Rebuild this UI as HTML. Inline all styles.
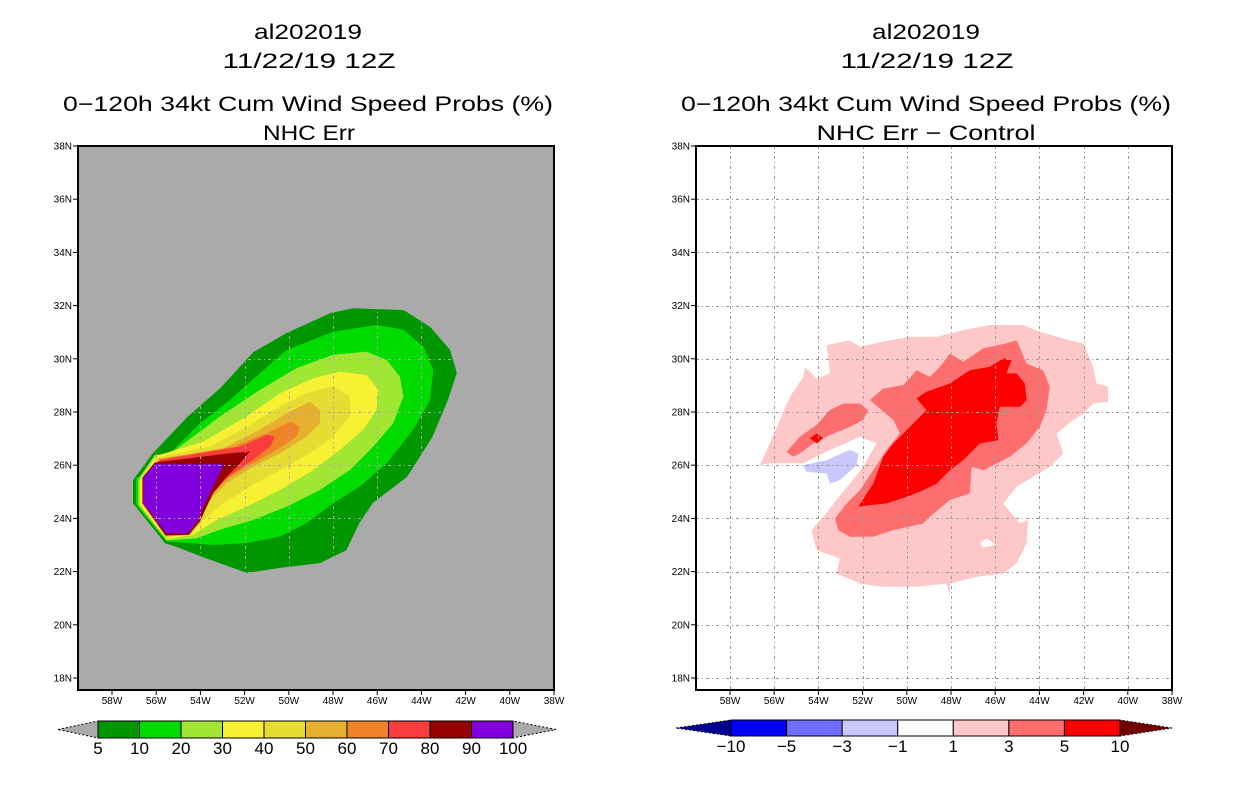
<!DOCTYPE html>
<html><head><meta charset="utf-8"><style>
html,body{margin:0;padding:0;background:#fff;}
svg{display:block;font-family:"Liberation Sans",sans-serif;}
</style></head><body>
<svg id="chart" width="1236" height="800" viewBox="0 0 1236 800">
<rect width="1236" height="800" fill="#fff"/>
<g font-size="21" text-anchor="middle" fill="#000">
<text x="308" y="39" textLength="108" lengthAdjust="spacingAndGlyphs">al202019</text>
<text x="309" y="68" textLength="173" lengthAdjust="spacingAndGlyphs">11/22/19 12Z</text>
<text x="308" y="111" textLength="490" lengthAdjust="spacingAndGlyphs">0−120h 34kt Cum Wind Speed Probs (%)</text>
<text x="309" y="140" textLength="92" lengthAdjust="spacingAndGlyphs">NHC Err</text>
</g>
<g font-size="21" text-anchor="middle" fill="#000">
<text x="926" y="39" textLength="108" lengthAdjust="spacingAndGlyphs">al202019</text>
<text x="927" y="68" textLength="173" lengthAdjust="spacingAndGlyphs">11/22/19 12Z</text>
<text x="926" y="111" textLength="490" lengthAdjust="spacingAndGlyphs">0−120h 34kt Cum Wind Speed Probs (%)</text>
<text x="926" y="140" textLength="219" lengthAdjust="spacingAndGlyphs">NHC Err − Control</text>
</g>
<g id="left"></g>
<g id="right"></g>
<g id="cbl"></g>
<g id="cbr"></g>
</svg>
<script>
// ---- data (lon in degrees W, lat in degrees N) ----
const lonTicks = [58,56,54,52,50,48,46,44,42,40,38];
const latTicks = [38,36,34,32,30,28,26,24,22,20,18];
const probLevels = [5,10,20,30,40,50,60,70,80,90,100];
const probColors = ["#009600","#00dc00","#a0e632","#f8f032","#e6dc32","#e6af2d","#f08228","#fa3c3c","#960000","#8200dc"];
const diffLevels = ["−10","−5","−3","−1","1","3","5","10"];
const diffColors = ["#00008c","#0000ff","#6e6eff","#c8c8ff","#ffffff","#ffc8c8","#ff6e6e","#ff0000","#700000"];
const prob5 = [[57.05,25.44],[56.14,26.46],[54.6,27.8],[53.1,28.9],[51.6,30.25],[50.1,30.97],[48.1,31.72],[47.1,31.9],[44.8,31.83],[43.6,31.2],[42.7,30.33],[42.4,29.47],[42.8,28.45],[43.5,27.06],[44.65,25.56],[46.2,24.58],[46.8,23.83],[47.4,22.8],[48.6,22.32],[50.4,22.14],[51.9,21.95],[53.9,22.55],[55.06,22.92],[55.6,23.07],[57.05,24.57]];
const prob10 = [[56.92,25.48],[55.38,26.45],[54.02,27.58],[52.66,28.45],[51.31,29.46],[50.10,30.33],[47.99,31.02],[46.03,31.27],[44.82,31.09],[43.91,30.46],[43.46,29.58],[43.61,28.45],[44.37,27.33],[45.57,26.07],[46.78,25.20],[47.99,24.57],[49.19,23.82],[50.40,23.32],[51.91,23.07],[53.42,23.00],[54.47,23.07],[55.53,23.13],[56.92,24.51]];
const prob20 = [[56.06,26.39],[55.38,26.42],[53.12,27.83],[51.31,28.83],[49.65,29.65],[47.99,30.15],[46.48,30.27],[45.57,29.96],[44.97,29.33],[44.82,28.58],[45.27,27.58],[46.18,26.70],[47.23,25.82],[48.59,25.07],[50.10,24.44],[51.61,23.94],[53.12,23.57],[54.17,23.25],[55.53,23.17],[56.81,24.51],[56.81,25.47]];
const prob30 = [[55.98,26.35],[53.87,26.89],[51.91,27.83],[50.40,28.71],[48.89,29.27],[47.69,29.52],[46.48,29.39],[45.95,28.83],[46.03,28.08],[46.63,27.33],[47.69,26.57],[48.89,25.82],[50.40,25.07],[51.91,24.44],[53.27,23.94],[54.32,23.38],[55.53,23.22],[56.74,24.51],[56.74,25.45]];
const prob40 = [[55.91,26.30],[53.57,26.70],[51.91,27.45],[50.55,28.14],[49.19,28.71],[47.99,28.96],[47.23,28.58],[47.23,27.83],[47.99,27.08],[49.04,26.45],[50.40,25.82],[51.76,25.20],[52.96,24.57],[53.87,23.94],[54.40,23.44],[55.53,23.27],[56.67,24.54],[56.67,25.45]];
const prob50 = [[55.86,26.26],[53.12,26.57],[51.31,27.33],[50.10,27.95],[49.04,28.39],[48.59,28.08],[48.59,27.58],[49.19,27.08],[50.40,26.45],[51.61,25.95],[52.81,25.32],[53.57,24.70],[54.02,23.94],[54.47,23.38],[55.56,23.32],[56.64,24.57],[56.64,25.50]];
const prob60 = [[55.83,26.22],[52.51,26.70],[51.00,27.20],[49.95,27.64],[49.50,27.45],[49.65,27.08],[50.55,26.57],[51.61,26.07],[52.66,25.57],[53.42,24.95],[53.79,24.32],[54.17,23.82],[54.50,23.38],[55.57,23.34],[56.63,24.57],[56.63,25.53]];
const prob70 = [[55.80,26.20],[52.21,26.70],[51.00,27.14],[50.63,27.08],[50.85,26.70],[51.61,26.20],[52.51,25.70],[53.27,25.20],[53.72,24.57],[54.02,23.94],[54.52,23.40],[55.59,23.37],[56.61,24.57],[56.61,25.55]];
const prob80 = [[56.07,26.10],[52.66,26.45],[51.76,26.51],[52.21,26.07],[52.81,25.57],[53.42,24.95],[53.72,24.44],[54.02,23.88],[54.53,23.38],[55.59,23.37],[56.61,24.57],[56.61,25.55]];
const prob90 = [[56.06,26.05],[52.93,26.05],[53.42,25.20],[53.79,24.57],[54.10,23.94],[54.55,23.44],[55.56,23.44],[56.58,24.57],[56.58,25.55]];
const diffPos1 = [[56.65,26.00],[56.20,26.82],[55.74,27.70],[55.29,28.57],[54.69,29.32],[54.61,29.70],[54.08,29.26],[53.48,29.45],[53.63,30.51],[52.58,30.70],[52.12,30.45],[50.77,30.70],[49.86,30.83],[48.65,30.83],[47.45,31.08],[46.24,31.27],[44.73,31.27],[43.98,31.02],[42.92,30.76],[42.02,30.58],[41.56,29.70],[41.41,29.07],[40.89,28.95],[40.89,28.38],[41.56,28.32],[42.02,27.94],[42.47,27.70],[43.22,27.19],[42.92,26.44],[43.53,25.94],[44.28,25.56],[45.03,25.19],[45.64,24.56],[44.88,23.81],[44.51,23.94],[44.58,23.06],[45.03,22.31],[45.64,21.93],[46.84,21.80],[48.05,21.55],[48.05,21.05],[48.20,21.55],[49.56,21.43],[51.07,21.43],[52.12,21.55],[53.18,21.93],[53.03,22.49],[54.08,22.81],[54.31,23.56],[53.78,24.06],[53.18,24.69],[52.58,25.31],[51.97,25.94],[51.37,26.82],[52.12,27.07],[53.48,26.57],[54.69,26.07],[55.59,26.07],[56.20,26.07]];
const diffPos3a = [[55.44,26.50],[54.84,27.07],[54.08,27.51],[53.48,28.07],[52.88,28.32],[52.12,28.32],[51.75,28.07],[51.97,27.70],[52.58,27.44],[53.48,27.13],[54.23,26.82],[54.84,26.44],[55.14,26.32]];
const diffPos3b = [[53.25,24.00],[52.73,24.56],[52.12,25.06],[51.52,25.81],[50.92,26.57],[50.31,27.19],[50.61,27.70],[51.67,28.45],[51.07,28.88],[50.16,29.01],[49.56,29.57],[48.96,29.32],[48.50,29.70],[48.05,30.20],[47.45,29.89],[46.54,30.39],[45.49,30.58],[45.03,30.70],[44.58,29.82],[43.83,29.57],[43.53,28.95],[43.68,28.07],[43.98,27.44],[44.58,26.82],[45.34,26.32],[46.54,25.81],[47.07,25.94],[47.15,24.94],[48.05,24.69],[48.96,24.06],[49.26,23.81],[50.61,23.56],[51.52,23.31],[52.58,23.31],[53.10,23.56]];
const diffPos5a = [[52.20,24.44],[51.52,25.31],[51.07,26.32],[50.61,26.82],[50.16,27.19],[49.11,28.07],[49.56,28.51],[49.11,28.76],[48.05,29.07],[47.15,29.57],[46.24,29.70],[45.64,30.01],[45.26,29.95],[45.49,29.45],[45.03,29.45],[44.66,29.07],[44.58,28.45],[44.88,28.20],[45.79,28.20],[45.94,27.57],[45.86,26.94],[46.69,26.82],[47.45,26.19],[48.05,25.81],[48.65,25.31],[49.26,25.06],[50.01,24.81],[50.92,24.56],[51.67,24.50]];
const diffPos5b = [[54.39,27.01],[54.08,27.19],[53.78,27.01],[54.08,26.82]];
const diffNeg1 = [[54.69,26.00],[53.63,26.19],[52.58,26.57],[52.20,26.44],[52.27,26.00],[53.03,25.44],[53.48,25.31],[53.63,25.69],[54.54,25.75]];
const diffHole = [[46.69,23.06],[46.39,23.25],[45.94,23.00],[46.54,22.91]];

// ---- drawing ----
const NS="http://www.w3.org/2000/svg";
const LEFT0=78, RIGHT0=554, TOP=146, BOT=690;
function xs(lon,off){return RIGHT0+off-(lon-38)*22.1;}
function ys(lat){return TOP+(38-lat)*26.6;}
function mk(tag,attrs,parent){const e=document.createElementNS(NS,tag);for(const k in attrs)e.setAttribute(k,attrs[k]);parent.appendChild(e);return e;}
function poly(g,pts,off,fill,name){
  const p=mk('polygon',{points:pts.map(q=>xs(q[0],off).toFixed(1)+','+ys(q[1]).toFixed(1)).join(' '),fill:fill},g);
  
  
}
function panel(g,off,bg,gridColor,layers){
  const clipId='clip'+off;
  const cp=mk('clipPath',{id:clipId},g);
  mk('rect',{x:LEFT0+off,y:TOP,width:RIGHT0-LEFT0,height:BOT-TOP},cp);
  const bgr=mk('rect',{x:LEFT0+off,y:TOP,width:RIGHT0-LEFT0,height:BOT-TOP,fill:bg},g);
  
  
  const cg=mk('g',{'clip-path':'url(#'+clipId+')'},g);
  layers.forEach(l=>poly(cg,l[0],off,l[1],l[2]));
  const grid=mk('g',{stroke:gridColor,'stroke-width':1,'stroke-dasharray':'3,3,1,3'},cg);
  
  
  lonTicks.forEach(l=>{const x=Math.round(xs(l,off))+0.5;mk('line',{x1:x,x2:x,y1:TOP,y2:BOT},grid);});
  latTicks.forEach(l=>{const y=Math.round(ys(l))+0.5;mk('line',{x1:LEFT0+off,x2:RIGHT0+off,y1:y,y2:y},grid);});
  const fr=mk('rect',{x:LEFT0+off,y:TOP,width:RIGHT0-LEFT0,height:BOT-TOP,fill:'none',stroke:'#000','stroke-width':2},g);
  
  
  latTicks.forEach(l=>{const y=ys(l);
    mk('line',{x1:LEFT0+off-5,x2:LEFT0+off,y1:y,y2:y,stroke:'#000'},g);
    const t=mk('text',{x:LEFT0+off-6,y:y+3.5,'font-size':10,'text-anchor':'end'},g);t.textContent=l+'N';
    
    
  });
  lonTicks.forEach(l=>{const x=xs(l,off);
    mk('line',{x1:x,x2:x,y1:BOT,y2:BOT+5,stroke:'#000'},g);
    const t=mk('text',{x:x,y:BOT+14,'font-size':10,'text-anchor':'middle'},g);t.textContent=l+'W';
    
    
  });
}
panel(document.getElementById('left'),0,'#aaaaaa','#aaaaaa',[
  [prob5,probColors[0],'prob-5'],[prob10,probColors[1],'prob-10'],[prob20,probColors[2],'prob-20'],
  [prob30,probColors[3],'prob-30'],[prob40,probColors[4],'prob-40'],[prob50,probColors[5],'prob-50'],
  [prob60,probColors[6],'prob-60'],[prob70,probColors[7],'prob-70'],[prob80,probColors[8],'prob-80'],
  [prob90,probColors[9],'prob-90']]);
panel(document.getElementById('right'),618,'#ffffff','#999999',[
  [diffPos1,diffColors[5],'diff-pos-1'],[diffHole,'#ffffff','diff-gap'],[diffNeg1,diffColors[3],'diff-neg-1'],
  [diffPos3a,diffColors[6],'diff-pos-3-west'],[diffPos3b,diffColors[6],'diff-pos-3'],
  [diffPos5a,diffColors[7],'diff-pos-5'],[diffPos5b,diffColors[7],'diff-pos-5-small']]);

function colorbar(g,x0,x1,tl,tr,y0,y1,colors,labels,triL,triR){
  const n=colors.length, w=(x1-x0)/n, ym=(y0+y1)/2;
  const a=mk('polygon',{points:`${tl},${ym} ${x0},${y0} ${x0},${y1}`,fill:triL,stroke:'#000','stroke-width':1,'stroke-dasharray':'2,2'},g);
  
  
  const b=mk('polygon',{points:`${tr},${ym} ${x1},${y0} ${x1},${y1}`,fill:triR,stroke:'#000','stroke-width':1,'stroke-dasharray':'2,2'},g);
  
  
  colors.forEach((c,i)=>{const r=mk('rect',{x:x0+i*w,y:y0,width:w,height:y1-y0,fill:c,stroke:'#000','stroke-width':1},g);
    
    });
  labels.forEach((l,i)=>{const t=mk('text',{x:x0+i*w,y:y1+16,'font-size':17,'text-anchor':'middle'},g);t.textContent=l;
    
    });
}
colorbar(document.getElementById('cbl'),98,513,58,556,721,738,probColors,probLevels,'#aaaaaa','#aaaaaa');
colorbar(document.getElementById('cbr'),731,1120,676,1172,720,736,diffColors.slice(1,8),diffLevels,diffColors[0],diffColors[8]);
</script>
</body></html>
